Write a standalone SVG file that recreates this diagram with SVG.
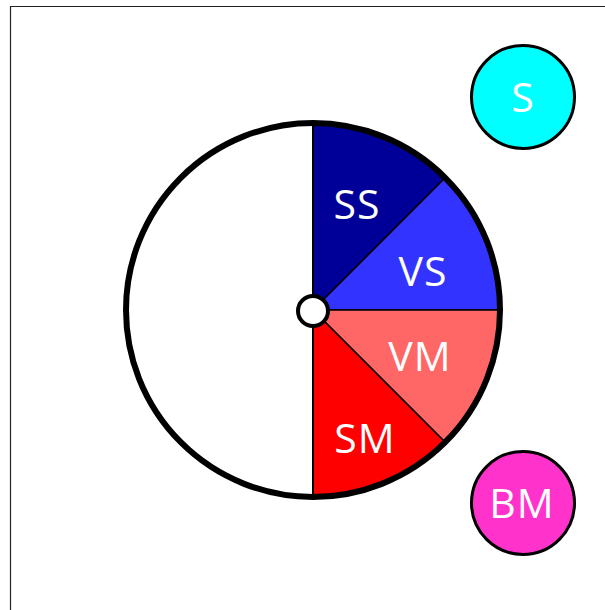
<svg xmlns="http://www.w3.org/2000/svg" width="605" height="610" viewBox="0 0 605 610">
<style>
.lbl{font-family:"Open Sans","Liberation Sans",sans-serif;font-size:41px;fill:#fff;text-anchor:middle;letter-spacing:1px}
.sec{stroke:#000;stroke-width:1.5}
</style>
<rect width="605" height="610" fill="#fff"/>
<path d="M10.5 610 V6.5 H605" fill="none" stroke="#222" stroke-width="1.2"/>
<g id="wheel">
<circle cx="313" cy="310" r="187" fill="#fff"/>
<g id="SS"><path class="sec" d="M313 310 V123 A187 187 0 0 1 445.2 177.8 Z" fill="#000099"/><text class="lbl" x="357" y="219">SS</text></g>
<g id="VS"><path class="sec" d="M313 310 L445.2 177.8 A187 187 0 0 1 500 310 Z" fill="#3333FF"/><text class="lbl" x="423" y="286">VS</text></g>
<g id="VM"><path class="sec" d="M313 310 H500 A187 187 0 0 1 445.2 442.2 Z" fill="#FF6666"/><text class="lbl" x="420" y="371">VM</text></g>
<g id="SM"><path class="sec" d="M313 310 L445.2 442.2 A187 187 0 0 1 313 497 Z" fill="#FF0000"/><text class="lbl" x="365" y="453">SM</text></g>
<line x1="313" y1="123" x2="313" y2="497" stroke="#000" stroke-width="2"/>
<circle cx="313" cy="310" r="187" fill="none" stroke="#000" stroke-width="6"/>
<circle cx="313" cy="311" r="15" fill="#fff" stroke="#000" stroke-width="4"/>
</g>
<g id="S"><circle cx="523" cy="97" r="51.5" fill="#00FFFF" stroke="#000" stroke-width="3"/><text class="lbl" x="523" y="112">S</text></g>
<g id="BM"><circle cx="523" cy="503" r="51.5" fill="#FF33CC" stroke="#000" stroke-width="3"/><text class="lbl" x="522" y="518">BM</text></g>
</svg>
